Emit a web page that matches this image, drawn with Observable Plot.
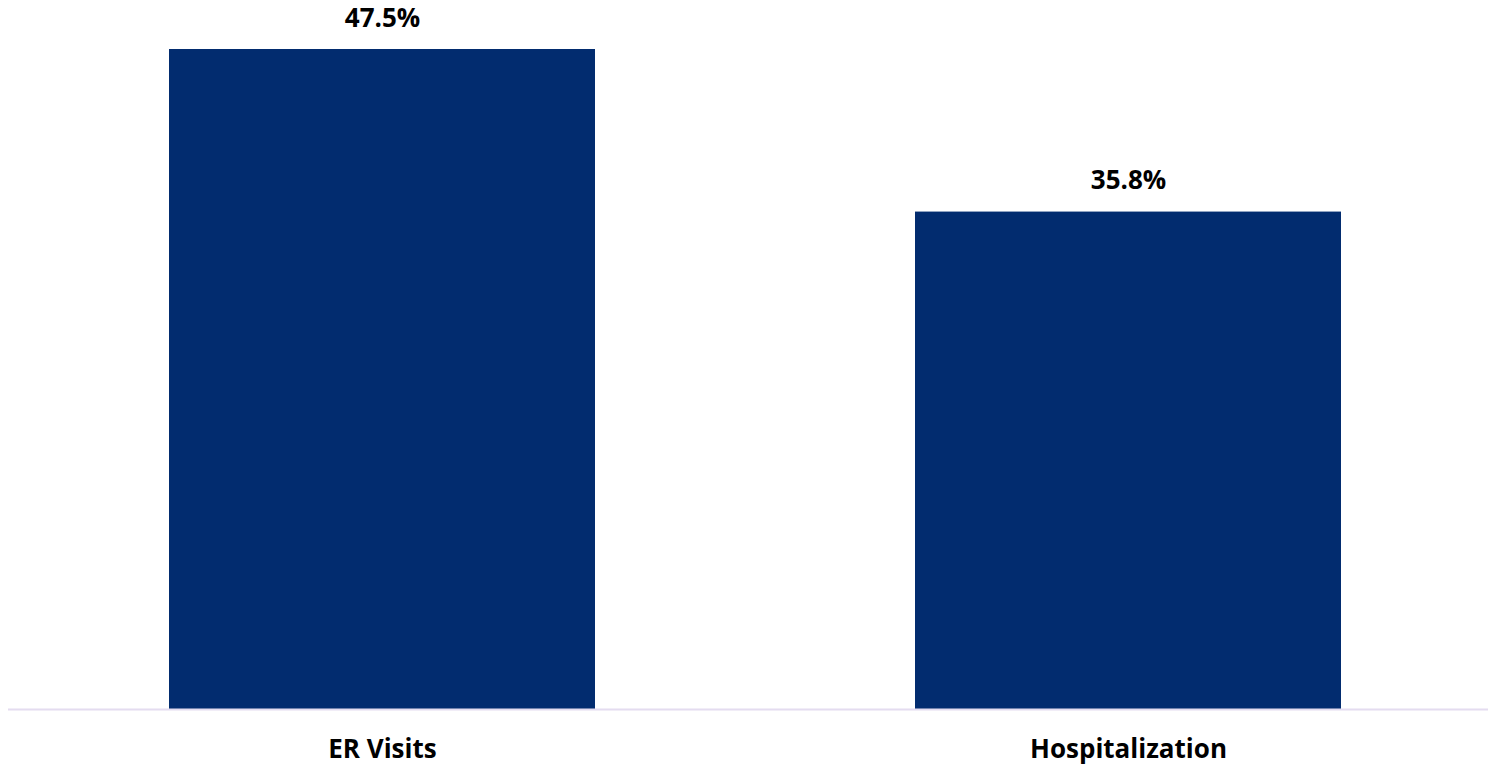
<!DOCTYPE html>
<html>
<head>
<meta charset="utf-8">
<script src="https://cdn.jsdelivr.net/npm/d3@7"></script>
<script src="https://cdn.jsdelivr.net/npm/@observablehq/plot@0.6"></script>
<style>
  html, body { margin: 0; padding: 0; background: #fff; }
  #chart svg { display: block; }
</style>
</head>
<body>
<div id="chart"></div>
<script>
const categories = ["ER Visits", "Hospitalization"];
const values = [47.5, 35.8];
const valueLabels = ["47.5%", "35.8%"];

const data = categories.map((c, i) => ({category: c, value: values[i], label: valueLabels[i]}));

const font = "'Open Sans', 'DejaVu Sans', sans-serif";

const chart = Plot.plot({
  width: 1488,
  height: 767,
  marginTop: 49,
  marginBottom: 58,
  marginLeft: 8,
  marginRight: 0,
  style: {fontFamily: font, background: "#fff"},
  x: {domain: categories, range: [169, 1341], paddingInner: 0.429, paddingOuter: 0, label: null},
  y: {domain: [0, 47.5], axis: null},
  marks: [
    Plot.barY(data, {x: "category", y: "value", fill: "#022c6f"}),
    Plot.ruleY([0], {stroke: "#e4dcf0", strokeWidth: 2}),
    Plot.text(data, {x: "category", y: "value", text: "label", dy: -31, lineAnchor: "middle",
      fontSize: 26, fontWeight: "bold", fill: "#000"}),
    Plot.axisX({tickSize: 0, tickPadding: 30, fontSize: 26, fontWeight: "bold", fill: "#000", label: null})
  ]
});
document.getElementById("chart").appendChild(chart);
</script>
</body>
</html>
